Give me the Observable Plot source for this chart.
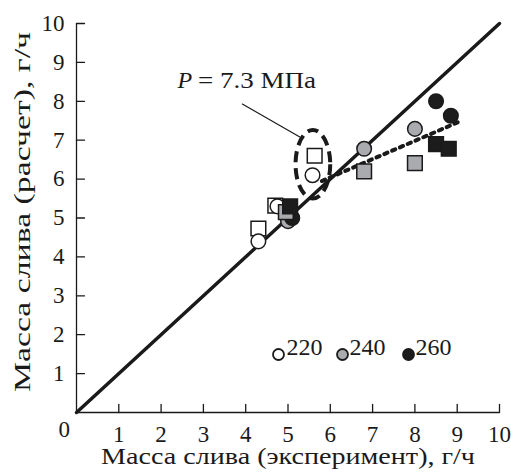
<!DOCTYPE html>
<html>
<head>
<meta charset="utf-8">
<script src="https://cdn.jsdelivr.net/npm/d3@7"></script>
<script src="https://cdn.jsdelivr.net/npm/@observablehq/plot@0.6"></script>
<style>
  body { margin: 0; background: #fff; }
  #chart svg { display: block; }
</style>
</head>
<body>
<div id="chart"></div>
<script>
// Data
const temps = ["220", "240", "260"];
const fills = ["#ffffff", "#a9abaf", "#1c1c1c"];

// circles (one model) and squares (another model), per temperature
const circles220 = [[4.3, 4.4], [4.75, 5.3], [5.58, 6.1]];
const squares220 = [[4.3, 4.73], [4.7, 5.32], [5.63, 6.6]];
const circles240 = [[5.0, 4.92], [6.8, 6.78], [8.0, 7.29]];
const squares240 = [[4.95, 5.15], [6.8, 6.2], [8.0, 6.41]];
const circles260 = [[5.1, 5.0], [8.5, 8.0], [8.85, 7.63]];
const squares260 = [[5.05, 5.3], [8.5, 6.9], [8.8, 6.78]];

const diagonal = [[0, 0], [10, 10]];
const trend = [[5.8, 5.95], [9.1, 7.5]];

const xTicks = [1, 2, 3, 4, 5, 6, 7, 8, 9, 10];
const yTicks = [1, 2, 3, 4, 5, 6, 7, 8, 9, 10];
const originLabel = ["0"];

const xTitle = "Масса слива (эксперимент), г/ч";
const yTitle = "Масса слива (расчет), г/ч";

// annotation (data units)
const ellipseCenter = [5.6, 6.37];
const ellipseRadii = [0.41, 0.88];
const annotVar = "P";
const annotText = "= 7.3 МПа";
const annotAt = [2.78, 8.53];
const leader = [[3.92, 7.93], [5.3, 7.07]];

const font = "'Liberation Serif', 'DejaVu Serif', serif";
const ink = "#1a1a1a";

const tickShape = { draw(context, l) { context.moveTo(0, 0); context.lineTo(0, -l); } };

const ellipseMark = (index, scales) => {
  const cx = scales.x(ellipseCenter[0]);
  const cy = scales.y(ellipseCenter[1]);
  const rx = Math.abs(scales.x(ellipseCenter[0] + ellipseRadii[0]) - cx);
  const ry = Math.abs(scales.y(ellipseCenter[1] + ellipseRadii[1]) - cy);
  const e = document.createElementNS("http://www.w3.org/2000/svg", "ellipse");
  e.setAttribute("cx", cx); e.setAttribute("cy", cy);
  e.setAttribute("rx", rx); e.setAttribute("ry", ry);
  e.setAttribute("fill", "none");
  e.setAttribute("stroke", ink);
  e.setAttribute("stroke-width", 4);
  e.setAttribute("stroke-dasharray", "11,6");
  return e;
};

const dotOpts = (fill, symbol) => ({
  x: d => d[0], y: d => d[1],
  symbol, r: symbol === "square" ? 8.3 : 7.3,
  fill, stroke: ink, strokeWidth: 1.5
});

const legendBase = { frameAnchor: "bottom-left", dy: -58, fontFamily: font };

const plot = Plot.plot({
  width: 511,
  height: 473,
  marginLeft: 76,
  marginRight: 12,
  marginTop: 23,
  marginBottom: 61,
  style: { fontFamily: font, fontSize: "23px", color: ink, background: "#fff" },
  x: { domain: [0, 10] },
  y: { domain: [0, 10] },
  marks: [
    Plot.axisX({ ticks: xTicks, tickSize: 0, tickPadding: 13, tickFormat: d => String(d), label: null, fontSize: 23, fontFamily: font }),
    Plot.axisY({ ticks: yTicks, tickSize: 0, tickPadding: 12, tickFormat: d => String(d), label: null, fontSize: 23, fontFamily: font }),
    Plot.text(originLabel, { frameAnchor: "bottom-left", dx: -18, dy: 24, text: d => d, fontSize: 23, fontFamily: font, fill: ink }),
    Plot.ruleX([0], { stroke: ink, strokeWidth: 1.3 }),
    Plot.ruleY([0], { stroke: ink, strokeWidth: 1.3 }),
    Plot.vector(xTicks, { x: d => d, y: 0, length: 8, rotate: 0, anchor: "start", shape: tickShape, stroke: ink, strokeWidth: 1.3 }),
    Plot.vector(yTicks, { x: 0, y: d => d, length: 8, rotate: 90, anchor: "start", shape: tickShape, stroke: ink, strokeWidth: 1.3 }),
    Plot.text([xTitle], { frameAnchor: "bottom", dy: 51, text: d => d, fontSize: 24, fontFamily: font, fill: ink }),
    Plot.text([yTitle], { frameAnchor: "left", dx: -54, dy: -6, rotate: -90, textAnchor: "middle", text: d => d, fontSize: 24, fontFamily: font, fill: ink }),
    Plot.line(diagonal, { x: d => d[0], y: d => d[1], stroke: ink, strokeWidth: 3.5 }),
    Plot.line(trend, { x: d => d[0], y: d => d[1], stroke: ink, strokeWidth: 4, strokeDasharray: "3.5,5" }),
    ellipseMark,
    Plot.line(leader, { x: d => d[0], y: d => d[1], stroke: ink, strokeWidth: 1.2 }),
    Plot.text([annotAt], { x: d => d[0], y: d => d[1], text: () => annotVar, textAnchor: "end", dx: -2, fontSize: 24, fontStyle: "italic", fontFamily: font, fill: ink }),
    Plot.text([annotAt], { x: d => d[0], y: d => d[1], text: () => annotText, textAnchor: "start", dx: 4, fontSize: 24, fontFamily: font, fill: ink }),
    Plot.dot(squares220, dotOpts(fills[0], "square")),
    Plot.dot(circles220, dotOpts(fills[0], "circle")),
    Plot.dot(circles240, dotOpts(fills[1], "circle")),
    Plot.dot(circles260, dotOpts(fills[2], "circle")),
    Plot.dot(squares240, dotOpts(fills[1], "square")),
    Plot.dot(squares260, dotOpts(fills[2], "square")),
    // legend
    Plot.dot([temps[0]], { ...legendBase, dx: 202, r: 5.5, fill: fills[0], stroke: ink, strokeWidth: 1.8 }),
    Plot.text([temps[0]], { ...legendBase, dx: 210, text: d => d, textAnchor: "start", fontSize: 24, fill: ink }),
    Plot.dot([temps[1]], { ...legendBase, dx: 266, r: 5.5, fill: fills[1], stroke: ink, strokeWidth: 1.8 }),
    Plot.text([temps[1]], { ...legendBase, dx: 273, text: d => d, textAnchor: "start", fontSize: 24, fill: ink }),
    Plot.dot([temps[2]], { ...legendBase, dx: 332, r: 5.5, fill: fills[2], stroke: ink, strokeWidth: 1.8 }),
    Plot.text([temps[2]], { ...legendBase, dx: 339, text: d => d, textAnchor: "start", fontSize: 24, fill: ink })
  ]
});

// stretch the axis titles and annotation to the reference's wider typeface
const stretch = { [xTitle]: 374, [yTitle]: 360, [annotText]: 118 };
plot.querySelectorAll("text").forEach(t => {
  const w = stretch[t.textContent];
  if (w) {
    t.setAttribute("textLength", w);
    t.setAttribute("lengthAdjust", "spacingAndGlyphs");
  }
});

document.getElementById("chart").append(plot);
</script>
</body>
</html>
